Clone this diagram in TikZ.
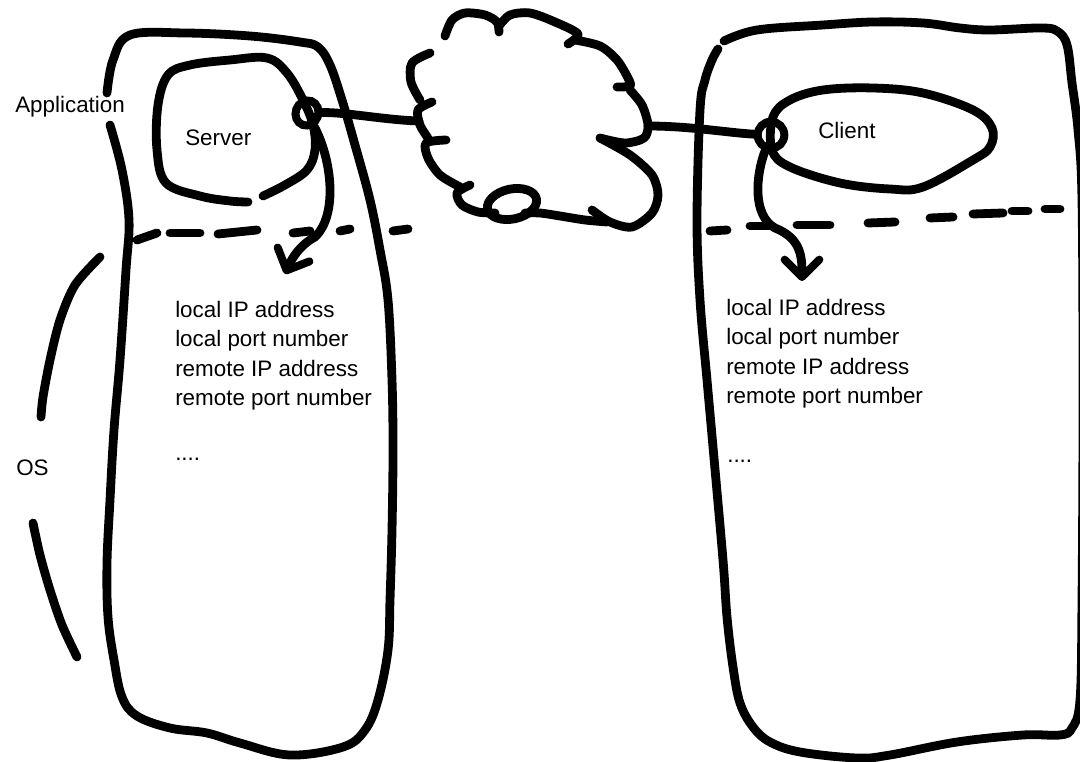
\documentclass[tikz,border=0pt]{standalone}
\usepackage{fontspec}
\setmainfont{Liberation Sans}
\usetikzlibrary{shapes.geometric,arrows.meta}
\begin{document}
\begin{tikzpicture}[x=0.75pt,y=-0.75pt,
  ink/.style={line width=6.6pt,line cap=round,line join=round},
  port/.style={ellipse,draw,line width=6pt,inner sep=0pt},
  lbl/.style={font=\fontsize{16.8}{22}\selectfont,inner sep=0pt,anchor=base west},
  info/.style={font=\fontsize{16.8}{22}\selectfont,inner sep=0pt,anchor=north west,align=left},
  conn/.style={ink,-{Straight Barb[length=13pt,width=26pt,line width=6pt,round]}}]
\useasboundingbox (0,0) rectangle (1080,762);
\clip (0,0) rectangle (1080,762);

% ---------- left host (server) ----------
\draw[ink] plot[smooth,tension=0.6] coordinates {(107,93) (113,60) (130,35) (185,33) (250,36) (300,42) (318,47) (330,65) (342,100) (355,145) (370,200) (380,250) (388,300) (392,380) (393,450) (392,530) (390,600) (388,650) (378,700) (365,730) (343,747) (290,755) (240,743) (207,733) (170,728) (137,716) (122,697) (114,660) (108,617) (107,563) (110,500) (114,430) (120,360) (126,270) (129,220) (122,170) (110,125)};

% server process
\draw[ink] plot[smooth,tension=0.6] coordinates {(263,196) (285,185) (307,170) (315,150) (313,125) (303,100) (287,73) (267,58) (230,60) (190,65) (168,75) (158,105) (157,150) (166,183) (200,196) (230,201) (248,202)};
\node[lbl] (server) at (185,146) {Server};
\node[port,minimum width=17pt,minimum height=19pt,rotate=-20] (sport) at (307,113) {};

% OS boundary (left)
\draw[ink] (137,240) -- (157,233);
\draw[ink] (170,233) -- (200,233);
\draw[ink] (218,234) -- (257,230);
\draw[ink] (293,233) -- (310,231);
\draw[ink] (340,231) -- (350,229);
\draw[ink] (393,231) -- (408,229);

\coordinate (sarr) at (285,274);
\draw[conn] (sport) .. controls (332,160) and (338,215) .. (315,237) .. controls (300,245) and (292,258) .. (sarr);

\node[info] (sinfo) at (175,301) {local IP address\\local port number\\remote IP address\\remote port number};
\node[lbl] (sdots) at (175,460) {....};

% labels on the left
\node[lbl] (app) at (15,113) {Application};
\node[lbl] (os) at (16,475) {OS};
\draw[ink] plot[smooth] coordinates {(100,257) (75,285) (60,320) (50,360) (43,397) (41,417)};
\draw[ink] plot[smooth] coordinates {(33,523) (40,555) (50,590) (62,625) (77,657)};

% ---------- cloud ----------
\draw[ink] plot[smooth] coordinates {(445,36) (452,20) (465,13) (485,15) (497,22) (499,32)};
\draw[ink] plot[smooth] coordinates {(499,26) (510,15) (530,13) (555,22) (578,34) (568,44)};
\draw[ink] plot[smooth] coordinates {(575,40) (600,46) (617,60) (628,78) (630,86) (617,87)};
\draw[ink] plot[smooth] coordinates {(630,90) (642,105) (648,125) (644,138) (625,143) (600,138)};
\draw[ink] plot[smooth] coordinates {(600,138) (630,155) (652,175) (658,195) (652,213) (632,227) (610,222) (592,210)};
\draw[ink] plot[smooth] coordinates {(607,222) (585,220) (560,216) (540,213) (525,213)};
\draw[ink,rotate around={12:(512,204)}] (512,204) ellipse[x radius=25,y radius=15];
\draw[ink] plot[smooth] coordinates {(495,213) (478,212) (462,205) (457,193) (470,185)};
\draw[ink] plot[smooth] coordinates {(460,187) (440,175) (428,158) (426,143) (446,140)};
\draw[ink] plot[smooth] coordinates {(428,138) (420,125) (418,110) (432,102)};
\draw[ink] plot[smooth] coordinates {(420,100) (411,82) (412,63) (430,53)};
\coordinate (cloudW) at (419,121);
\coordinate (cloudE) at (648,126);

% ---------- right host (client) ----------
\draw[ink] plot[smooth,tension=0.6] coordinates {(724,41) (757,30) (823,25) (873,22) (923,23) (960,28) (990,30) (1040,28) (1057,31) (1067,45) (1072,83) (1078,130) (1082,200) (1083,400) (1082,600) (1080,700) (1072,728) (1060,735) (1023,735) (957,742) (890,755) (857,758) (800,752) (770,742) (753,727) (740,703) (733,667) (727,617) (723,560) (713,447) (707,380) (700,300) (697,220) (700,110) (705,80) (712,60) (718,49)};

\draw[ink] plot[smooth cycle,tension=0.6] coordinates {(773,117) (790,100) (823,90) (873,88) (923,93) (973,110) (992,128) (990,147) (973,160) (923,187) (890,189) (840,183) (790,167) (772,150)};
\node[lbl] (client) at (818,139) {Client};
\node[port,minimum width=20pt,minimum height=20pt] (cport) at (771,135) {};

\draw[ink] (710,231) -- (727,230);
\draw[ink] (750,226) -- (770,226);
\draw[ink] (797,225) -- (830,225);
\draw[ink] (868,223) -- (895,222);
\draw[ink] (930,218) -- (953,217);
\draw[ink] (973,214) -- (1003,213);
\draw[ink] (1012,211) -- (1028,211);
\draw[ink] (1045,209) -- (1060,209);

\coordinate (carr) at (802,281);
\draw[conn] (cport) .. controls (756,175) and (752,215) .. (775,228) .. controls (800,238) and (802,255) .. (carr);

\node[info] (cinfo) at (726,299) {local IP address\\local port number\\remote IP address\\remote port number};
\node[lbl] (cdots) at (727,462) {....};

% ---------- connections through the network ----------
\draw[ink] (sport) .. controls (345,112) and (385,120) .. (cloudW);
\draw[ink] (cloudE) .. controls (690,126) and (730,133) .. (cport);
\end{tikzpicture}
\end{document}
